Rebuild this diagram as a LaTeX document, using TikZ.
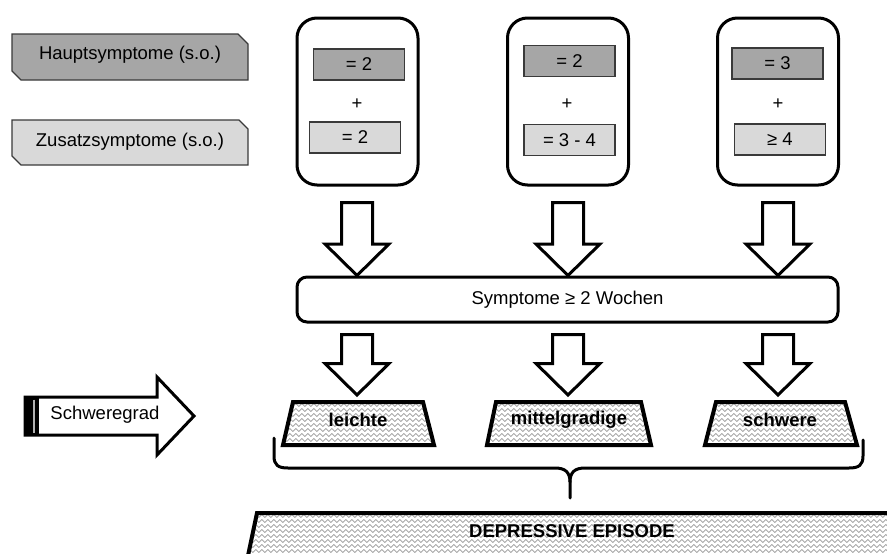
\documentclass[tikz,border=0pt]{standalone}
\usepackage{fontspec}
\setmainfont{Liberation Sans}
\usetikzlibrary{calc,decorations.pathmorphing}
\definecolor{hgray}{HTML}{A6A6A6}
\definecolor{lgray}{HTML}{D9D9D9}
\definecolor{bord}{HTML}{3A3A3A}
\definecolor{wavecol}{HTML}{9A9A9A}
\tikzset{
  txt/.style={font=\fontsize{18.5}{22}\selectfont, inner sep=0pt},
  btxt/.style={font=\fontsize{18.5}{22}\selectfont\bfseries, inner sep=0pt},
  colbox/.style={draw, line width=3pt, rounded corners=20pt, minimum width=121pt, minimum height=167pt, inner sep=0pt},
  hbox/.style={txt, draw=bord, line width=1.1pt, fill=hgray, minimum width=91pt, minimum height=31pt},
  lbox/.style={txt, draw=bord, line width=1.1pt, fill=lgray, minimum width=91pt, minimum height=31pt},
  symbox/.style={txt, draw, line width=3pt, rounded corners=10pt, minimum width=541pt, minimum height=45pt},
  blockarrow/.style={draw, line width=3pt, fill=white, line join=miter},
  trapline/.style={draw, line width=4pt, line join=miter},
  wavy/.style={draw=wavecol, line width=0.7pt, decorate, decoration={snake, segment length=6pt, amplitude=1.4pt}},
  labelshape/.style={draw=bord, line width=1.2pt},
  bracestyle/.style={draw, line width=3pt, line cap=round},
}
\newcommand\wavefill[5]{% path, x0, x1, ystart, number of rows
  \begin{scope}
    \clip #1;
    \foreach \i in {0,...,#5} {\draw[wavy] (#2,{#4+5*\i}) -- (#3,{#4+5*\i});}
  \end{scope}}
\newcommand\blockdown[2]{%
  \draw[blockarrow] let \p1=(#1), \p2=(#2) in
    (\x2-15.5pt,\y1) -- (\x2+15.5pt,\y1) -- (\x2+15.5pt,\y2+31.5pt) --
    (\x2+32pt,\y2+31.5pt) -- (\x2,\y2) -- (\x2-32pt,\y2+31.5pt) --
    (\x2-15.5pt,\y2+31.5pt) -- cycle;}
\begin{document}
\begin{tikzpicture}[x=1pt,y=-1pt]
\useasboundingbox (0,0) rectangle (887,554);
\fill[white] (0,0) rectangle (887,554);

% left labels
\filldraw[labelshape, fill=hgray] (12,34) -- (238,34) -- (248,44) -- (248,80) -- (21,80) -- (12,71) -- cycle;
\node[txt] (haupt) at (130,55) {Hauptsymptome (s.o.)};
\filldraw[labelshape, fill=lgray] (12,120) -- (239,120) -- (248,129) -- (248,165) -- (21,165) -- (12,156) -- cycle;
\node[txt] (zusatz) at (130,142) {Zusatzsymptome (s.o.)};

% column boxes
\node[colbox] (c1) at (357.5,101.5) {};
\node[colbox] (c2) at (568,101.5) {};
\node[colbox] (c3) at (778,101.5) {};

\node[hbox] (h1) at (359,64.5) {= 2};
\node[txt] (p1) at (357,104) {+};
\node[lbox] (z1) at (355,137.5) {= 2};

\node[hbox] (h2) at (569.5,61) {= 2};
\node[txt] (p2) at (567,104) {+};
\node[lbox] (z2) at (569.5,140) {= 3 - 4};

\node[hbox] (h3) at (777.5,63.5) {= 3};
\node[txt] (p3) at (778,104) {+};
\node[lbox] (z3) at (780,139.5) {≥ 4};

% symptom duration box
\node[symbox] (sym) at (567.5,299.5) {Symptome ≥ 2 Wochen};

% upper block arrows
\blockdown{$(c1.south)+(0,16)$}{$(357,0)!(sym.north)!(357,1)$}
\blockdown{$(c2.south)+(0,16)$}{$(568,0)!(sym.north)!(568,1)$}
\blockdown{$(c3.south)+(0,16)$}{$(778,0)!(sym.north)!(778,1)$}

% severity trapezoids
\wavefill{(293,402) -- (423,402) -- (434,445) -- (283,445) -- cycle}{270}{450}{400}{9}
\draw[trapline] (293,402) -- (423,402) -- (434,445) -- (283,445) -- cycle;
\node[btxt] (t1) at (358,420) {leichte};
\coordinate (t1n) at (357,402);

\wavefill{(496,402) -- (641,402) -- (651,445) -- (487,445) -- cycle}{470}{670}{400}{9}
\draw[trapline] (496,402) -- (641,402) -- (651,445) -- (487,445) -- cycle;
\node[btxt] (t2) at (569,420) {mittelgradige};
\coordinate (t2n) at (568,402);

\wavefill{(716,402) -- (845,402) -- (857,445) -- (705,445) -- cycle}{690}{870}{400}{9}
\draw[trapline] (716,402) -- (845,402) -- (857,445) -- (705,445) -- cycle;
\node[btxt] (t3) at (780,420) {schwere};
\coordinate (t3n) at (778,402);

% lower block arrows
\blockdown{$(357,0)!(sym.south)!(357,1)+(0,11)$}{$(t1n)+(0,-7)$}
\blockdown{$(568,0)!(sym.south)!(568,1)+(0,11)$}{$(t2n)+(0,-7)$}
\blockdown{$(778,0)!(sym.south)!(778,1)+(0,11)$}{$(t3n)+(0,-7)$}

% Schweregrad arrow
\draw[blockarrow] (25,397) -- (157,397) -- (157,377) -- (194,416) -- (157,455) -- (157,435) -- (25,435) -- cycle;
\fill (25,397) rectangle (39,435);
\draw[gray!60, line width=1.6pt] (34,399.5) -- (34,432.5);
\node[txt] (sw) at (105,415) {Schweregrad};

% brace
\coordinate (btip) at (570,498);
\draw[bracestyle] (274,438) -- (274,456) .. controls (274,465) and (278,468) .. (288,468) -- (555,468) .. controls (565,468) and (570,472) .. (570,482) -- (btip);
\draw[bracestyle] (863,440) -- (863,456) .. controls (863,465) and (859,468) .. (849,468) -- (585,468) .. controls (575,468) and (570,472) .. (570,482);

% depressive episode
\wavefill{(257,513) -- (900,513) -- (900,570) -- (245,570) -- cycle}{230}{900}{511}{9}
\draw[trapline] (245,570) -- (257,513) -- (900,513);
\node[btxt] (dep) at (572,531) {DEPRESSIVE EPISODE};
\end{tikzpicture}
\end{document}
